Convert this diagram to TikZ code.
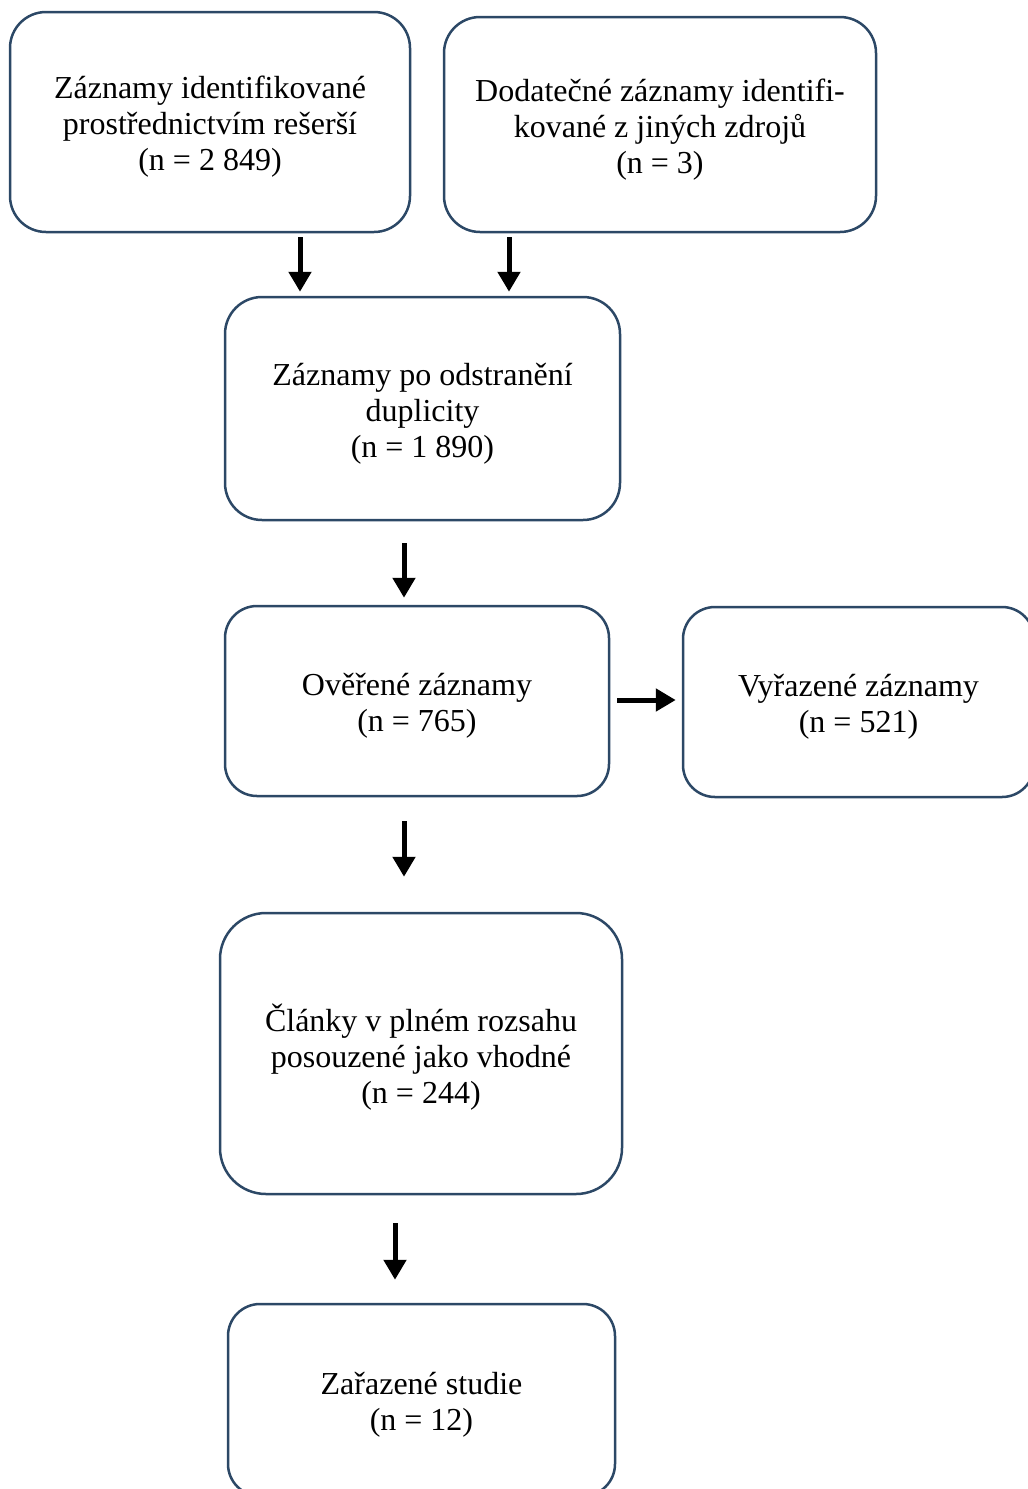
\documentclass[tikz,border=0pt]{standalone}
\usepackage{fontspec}
\setmainfont{Liberation Serif}
\usetikzlibrary{arrows.meta,calc}
\definecolor{boxline}{RGB}{44,72,102}
\newcommand{\boxtext}[1]{\raisebox{-12pt}[0pt][0pt]{\begin{tabular}{@{}c@{}}#1\end{tabular}}}
\tikzset{
  flowbox/.style={draw=boxline, line width=2.5pt, rectangle, inner sep=0pt,
    font=\fontsize{32}{36}\selectfont, text=black},
  arr/.style={line width=5pt, -{Triangle[width=22pt,length=20pt]}, black}
}
\begin{document}
\begin{tikzpicture}[x=1pt,y=-1pt]
\useasboundingbox (0,0) rectangle (1028,1489);
\node[flowbox, minimum width=400pt, minimum height=220pt, rounded corners=36pt] (A) at (210,122)
  {\boxtext{Záznamy identifikované\\prostřednictvím rešerší\\(n = 2 849)}};
\node[flowbox, minimum width=432pt, minimum height=215pt, rounded corners=36pt] (B) at (660,124.5)
  {\boxtext{Dodatečné záznamy identifi-\\kované z jiných zdrojů\\(n = 3)}};
\node[flowbox, minimum width=395pt, minimum height=223pt, rounded corners=37pt] (C) at (422.5,408.5)
  {\boxtext{Záznamy po odstranění\\duplicity\\(n = 1 890)}};
\node[flowbox, minimum width=384pt, minimum height=190pt, rounded corners=32pt] (D) at (417,701)
  {\boxtext{Ověřené záznamy\\(n = 765)}};
\node[flowbox, minimum width=351pt, minimum height=190pt, rounded corners=32pt] (E) at (858.5,702)
  {\boxtext{Vyřazené záznamy\\(n = 521)}};
\node[flowbox, minimum width=402pt, minimum height=281pt, rounded corners=46pt] (F) at (421,1053.5)
  {\boxtext{Články v plném rozsahu\\posouzené jako vhodné\\(n = 244)}};
\node[flowbox, minimum width=387pt, minimum height=192pt, rounded corners=32pt] (G) at (421.5,1400)
  {\boxtext{Zařazené studie\\(n = 12)}};
\coordinate (xa) at (300,0);
\coordinate (xb) at (509,0);
\coordinate (xc) at (404,0);
\coordinate (xf) at (395,0);
\coordinate (yd) at (0,700);
\draw[arr] ([yshift=-4pt]A.south -| xa) -- ([yshift=4pt]C.north -| xa);
\draw[arr] ([yshift=-4pt]B.south -| xb) -- ([yshift=4pt]C.north -| xb);
\draw[arr] ([yshift=-22pt]C.south -| xc) -- ([yshift=7pt]D.north -| xc);
\draw[arr] ([xshift=7pt]D.east |- yd) -- ([xshift=-6pt]E.west |- yd);
\draw[arr] ([yshift=-24pt]D.south -| xc) -- ([yshift=35pt]F.north -| xc);
\draw[arr] ([yshift=-28pt]F.south -| xf) -- ([yshift=23pt]G.north -| xf);
\end{tikzpicture}
\end{document}
